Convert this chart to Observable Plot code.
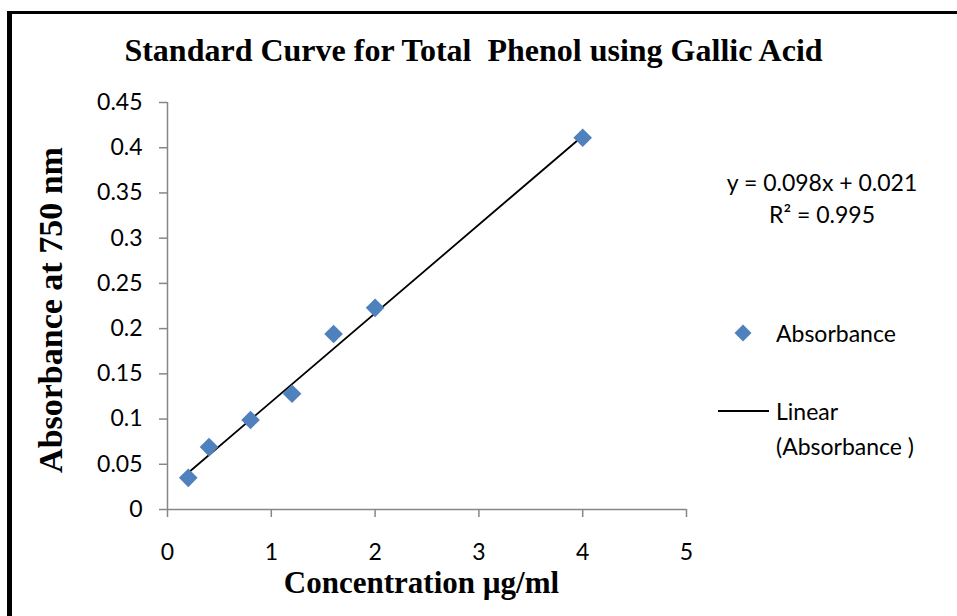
<!DOCTYPE html>
<html>
<head>
<meta charset="utf-8">
<script src="https://cdn.jsdelivr.net/npm/d3@7"></script>
<script src="https://cdn.jsdelivr.net/npm/@observablehq/plot@0.6"></script>
<style>
  body { margin: 0; background: #fff; }
  #wrap { position: relative; width: 957px; height: 616px; overflow: hidden; background: #fff; }
  #chart { position: absolute; left: 0; top: 0; }
  #overlay { position: absolute; left: 0; top: 0; pointer-events: none; }
  #frame { position: absolute; left: 7px; top: 11px; width: 970px; height: 640px;
           border-left: 5px solid #000; border-top: 3px solid #000; box-sizing: border-box; }
  .serif { font-family: "Liberation Serif", "Times New Roman", serif; font-weight: bold; fill: #000; }
  .sans { font-family: Lato, "Open Sans", sans-serif; fill: #000; }
</style>
</head>
<body>
<div id="wrap">
  <div id="chart"></div>
  <svg id="overlay" width="957" height="616">
    <text id="title" class="serif" x="473.5" y="61" text-anchor="middle" font-size="32"></text>
    <text id="ytitle" class="serif" transform="translate(62,310) rotate(-90)" text-anchor="middle" font-size="34"></text>
    <text id="xtitle" class="serif" x="421.5" y="593" text-anchor="middle" font-size="31"></text>
    <text id="eq1" class="sans" x="822" y="191" text-anchor="middle" font-size="23"></text>
    <text id="eq2" class="sans" x="822" y="223" text-anchor="middle" font-size="23"></text>
    <polygon points="743,324.5 751.5,333 743,341.5 734.5,333" fill="#4F81BD"></polygon>
    <text id="leg1" class="sans" x="776" y="342" font-size="23"></text>
    <line x1="718" x2="769" y1="411" y2="411" stroke="#000" stroke-width="1.8"></line>
    <text id="leg2a" class="sans" x="776" y="420" font-size="23"></text>
    <text id="leg2b" class="sans" x="776" y="455" font-size="23"></text>
  </svg>
  <div id="frame"></div>
</div>
<script>
// ---- Data ----
const concentration = [0.2, 0.4, 0.8, 1.2, 1.6, 2, 4];
const absorbance = [0.035, 0.069, 0.099, 0.128, 0.194, 0.223, 0.411];
const fitSlope = 0.098;
const fitIntercept = 0.021;
const rSquared = "0.995";

const xTicks = [0, 1, 2, 3, 4, 5];
const xTickLabels = ["0", "1", "2", "3", "4", "5"];
const yTicks = [0, 0.05, 0.1, 0.15, 0.2, 0.25, 0.3, 0.35, 0.4, 0.45];
const yTickLabels = ["0", "0.05", "0.1", "0.15", "0.2", "0.25", "0.3", "0.35", "0.4", "0.45"];

const titleText = "Standard Curve for Total\u00a0 Phenol using Gallic Acid";
const xLabel = "Concentration \u00b5g/ml";
const yLabel = "Absorbance at 750 nm";
const seriesName = "Absorbance";

// ---- Build ----
const points = concentration.map((c, i) => ({ c, a: absorbance[i] }));
const fitX = d3.extent(concentration);
const fitLine = fitX.map(c => ({ c, a: fitSlope * c + fitIntercept }));

const chart = Plot.plot({
  width: 957,
  height: 616,
  marginLeft: 167,
  marginRight: 271,
  marginTop: 102,
  marginBottom: 107,
  style: { background: "transparent", fontFamily: "Lato, 'Open Sans', sans-serif", overflow: "visible" },
  x: { domain: [0, 5] },
  y: { domain: [0, 0.45] },
  marks: [
    Plot.ruleX([0], { stroke: "#868686", strokeWidth: 1.5 }),
    Plot.ruleY([0], { stroke: "#868686", strokeWidth: 1.5 }),
    Plot.axisX({
      ticks: xTicks, tickSize: 8, tickPadding: 26, stroke: "#868686", strokeWidth: 1.5,
      fill: "#000", fontSize: 23, label: null,
      tickFormat: d => xTickLabels[xTicks.indexOf(d)]
    }),
    Plot.axisY({
      ticks: yTicks, tickSize: 8, tickPadding: 17, stroke: "#868686", strokeWidth: 1.5,
      fill: "#000", fontSize: 23, label: null,
      tickFormat: d => yTickLabels[yTicks.indexOf(d)]
    }),
    Plot.line(fitLine, { x: "c", y: "a", stroke: "#000", strokeWidth: 1.8 }),
    Plot.dot(points, { x: "c", y: "a", symbol: "diamond2", r: 8.4, fill: "#4F81BD", stroke: "none" })
  ]
});
document.getElementById("chart").appendChild(chart);

document.getElementById("title").textContent = titleText;
document.getElementById("xtitle").textContent = xLabel;
document.getElementById("ytitle").textContent = yLabel;
document.getElementById("eq1").textContent = `y = ${fitSlope}x + ${fitIntercept}`;
document.getElementById("eq2").textContent = `R\u00b2 = ${rSquared}`;
document.getElementById("leg1").textContent = seriesName;
document.getElementById("leg2a").textContent = "Linear";
document.getElementById("leg2b").textContent = `(${seriesName} )`;
</script>
</body>
</html>
